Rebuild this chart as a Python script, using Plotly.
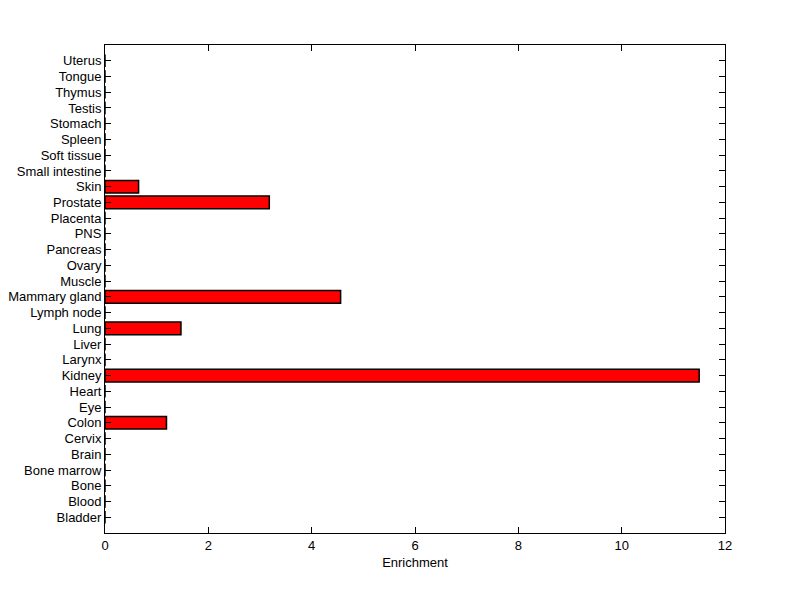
import plotly.graph_objects as go

tissues = [
    'Bladder', 'Blood', 'Bone', 'Bone marrow', 'Brain', 'Cervix', 'Colon',
    'Eye', 'Heart', 'Kidney', 'Larynx', 'Liver', 'Lung', 'Lymph node',
    'Mammary gland', 'Muscle', 'Ovary', 'Pancreas', 'PNS', 'Placenta',
    'Prostate', 'Skin', 'Small intestine', 'Soft tissue', 'Spleen',
    'Stomach', 'Testis', 'Thymus', 'Tongue', 'Uterus'
]
enrichment = [
    0, 0, 0, 0, 0, 0, 1.19,
    0, 0, 11.5, 0, 0, 1.47, 0,
    4.56, 0, 0, 0, 0, 0,
    3.18, 0.65, 0, 0, 0,
    0, 0, 0, 0, 0
]
x_ticks = [0, 2, 4, 6, 8, 10, 12]

positions = list(range(len(tissues)))

fig = go.Figure()
fig.add_trace(go.Bar(
    orientation = 'h',
    x = enrichment,
    y = positions,
    width = 0.8,
    marker = dict(color='#ff0000', line=dict(color='black', width=1.5)),
    showlegend = False
))
# page body has ~7px offset, so the figure is a bit smaller than the window
fig.update_layout(
    width = 792,
    height = 591,
    margin = dict(l=97, r=75, t=37, b=66),
    paper_bgcolor = 'white',
    plot_bgcolor = 'white',
    font = dict(family='Liberation Sans, Arial, sans-serif', size=13, color='black'),
    xaxis = dict(
        range = [0, 12],
        tickvals = x_ticks,
        ticks = 'inside',
        ticklen = 6,
        tickcolor = 'black',
        showline = True,
        linecolor = 'black',
        linewidth = 1,
        mirror = 'ticks',
        showgrid = False,
        zeroline = False,
        automargin = False,
        title = dict(text='Enrichment', standoff=6, font=dict(size=13))
    ),
    yaxis = dict(
        range = [-1, len(tissues)],
        tickvals = positions,
        ticktext = tissues,
        ticks = 'inside',
        ticklen = 6,
        tickcolor = 'black',
        showline = True,
        linecolor = 'black',
        linewidth = 1,
        mirror = 'ticks',
        showgrid = False,
        zeroline = False,
        automargin = False
    )
)
fig.write_html('out.html')
